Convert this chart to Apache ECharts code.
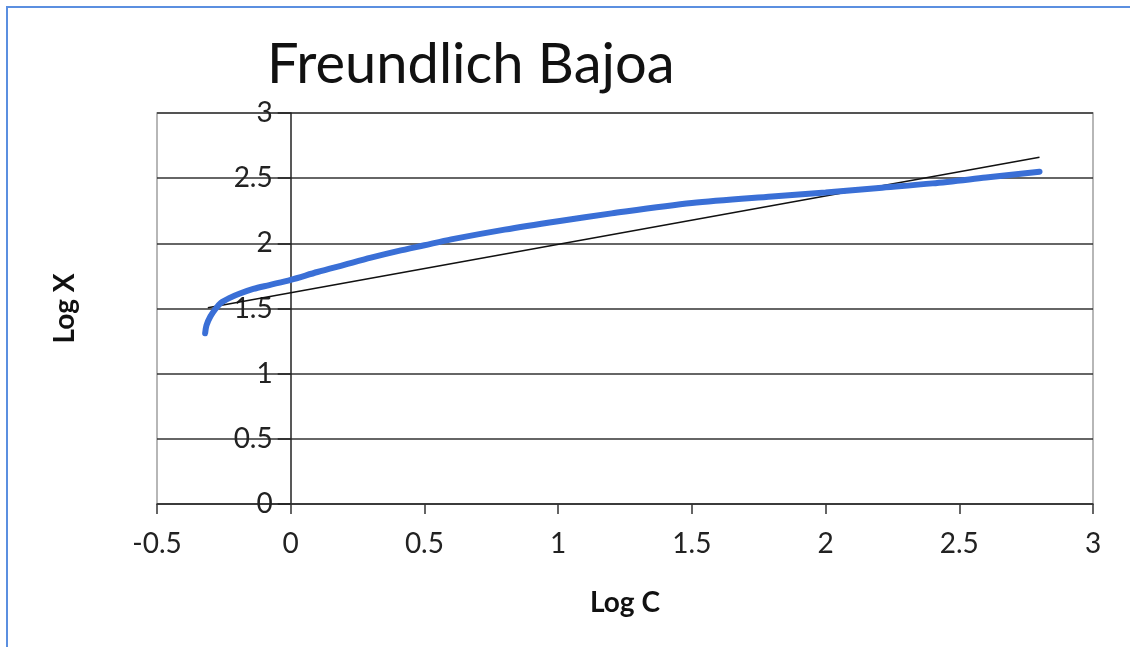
<!DOCTYPE html>
<html>
<head>
<meta charset="utf-8">
<script src="https://cdn.jsdelivr.net/npm/echarts@6/dist/echarts.min.js"></script>
<style>
  html, body { margin: 0; padding: 0; background: #fff; }
  #frame {
    position: absolute; left: 6px; top: 6px; width: 1130px; height: 647px;
    border-left: 2px solid #5b8fe0; border-top: 2px solid #5b8fe0;
    box-sizing: border-box;
  }
  #chart { position: absolute; left: 0; top: 0; width: 1130px; height: 647px; }
</style>
</head>
<body>
<div id="frame"></div>
<div id="chart"></div>
<script>
// measured curve (Log C, Log X)
const logC = [-0.32, -0.315, -0.30, -0.28, -0.26, -0.23, -0.19, -0.14, -0.08, 0, 0.1, 0.2, 0.3, 0.4, 0.5, 0.6, 0.8, 1.0, 1.2, 1.5, 1.8, 2.0, 2.2, 2.4, 2.6, 2.8]
const logX = [1.31, 1.37, 1.44, 1.50, 1.545, 1.58, 1.615, 1.65, 1.68, 1.72, 1.78, 1.835, 1.89, 1.94, 1.985, 2.03, 2.105, 2.17, 2.23, 2.31, 2.36, 2.39, 2.425, 2.46, 2.505, 2.55]

// linear fit line end points
const fitC = [-0.31, 2.8]
const fitX = [1.505, 2.66]

const xTicks = [-0.5, 0, 0.5, 1, 1.5, 2, 2.5, 3]
const yTicks = [0, 0.5, 1, 1.5, 2, 2.5, 3]

const chart = echarts.init(document.getElementById('chart'))

const font = 'Lato, "Open Sans", sans-serif'
const gridLeft = 157
const gridRight = 37
// shift y axis to x = 0
const yAxisShift = -(0 - xTicks[0]) / (xTicks[xTicks.length - 1] - xTicks[0]) * (1130 - gridLeft - gridRight)

const option = {
  animation: false,
  title: {
    text: 'Freundlich Bajoa',
    left: 262,
    top: 32,
    textStyle: { fontFamily: font, fontSize: 56, fontWeight: 'normal', color: '#111' }
  },
  grid: {
    left: gridLeft, right: gridRight, top: 113, bottom: 143,
    outerBoundsMode: 'none',
    containLabel: false,
    show: true, borderColor: '#a0a0a0', borderWidth: 1.5
  },
  xAxis: {
    type: 'value',
    min: xTicks[0],
    max: xTicks[xTicks.length - 1],
    interval: 0.5,
    name: 'Log C',
    nameLocation: 'middle',
    nameGap: 85,
    nameTextStyle: { fontFamily: font, fontSize: 28, fontWeight: 'bold', color: '#111' },
    axisLine: { onZero: false, lineStyle: { color: '#333', width: 1.5 } },
    axisTick: { show: true, length: 10, lineStyle: { color: '#333', width: 1.5 } },
    axisLabel: { fontFamily: font, fontSize: 28, color: '#222', margin: 26 },
    splitLine: { show: false }
  },
  yAxis: {
    type: 'value',
    min: yTicks[0],
    max: yTicks[yTicks.length - 1],
    interval: 0.5,
    offset: yAxisShift,
    name: 'Log X',
    nameLocation: 'middle',
    nameGap: 212,
    nameTextStyle: { fontFamily: font, fontSize: 28, fontWeight: 'bold', color: '#111' },
    axisLine: { show: true, onZero: false, lineStyle: { color: '#222', width: 1.5 } },
    axisTick: { show: true, length: 13, lineStyle: { color: '#222', width: 1.5 } },
    axisLabel: { fontFamily: font, fontSize: 28, color: '#222', margin: 18, padding: [10, 0, 0, 0] },
    splitLine: { show: true, lineStyle: { color: '#333', width: 1.5 } }
  },
  series: [
    {
      type: 'line',
      data: fitC.map((c, i) => [c, fitX[i]]),
      symbol: 'none',
      lineStyle: { color: '#111', width: 1.5 },
      z: 3
    },
    {
      type: 'line',
      data: logC.map((c, i) => [c, logX[i]]),
      smooth: 0.3,
      symbol: 'none',
      lineStyle: { color: '#3a6fd6', width: 6, cap: 'round' },
      z: 4
    }
  ]
}

chart.setOption(option)
</script>
</body>
</html>
